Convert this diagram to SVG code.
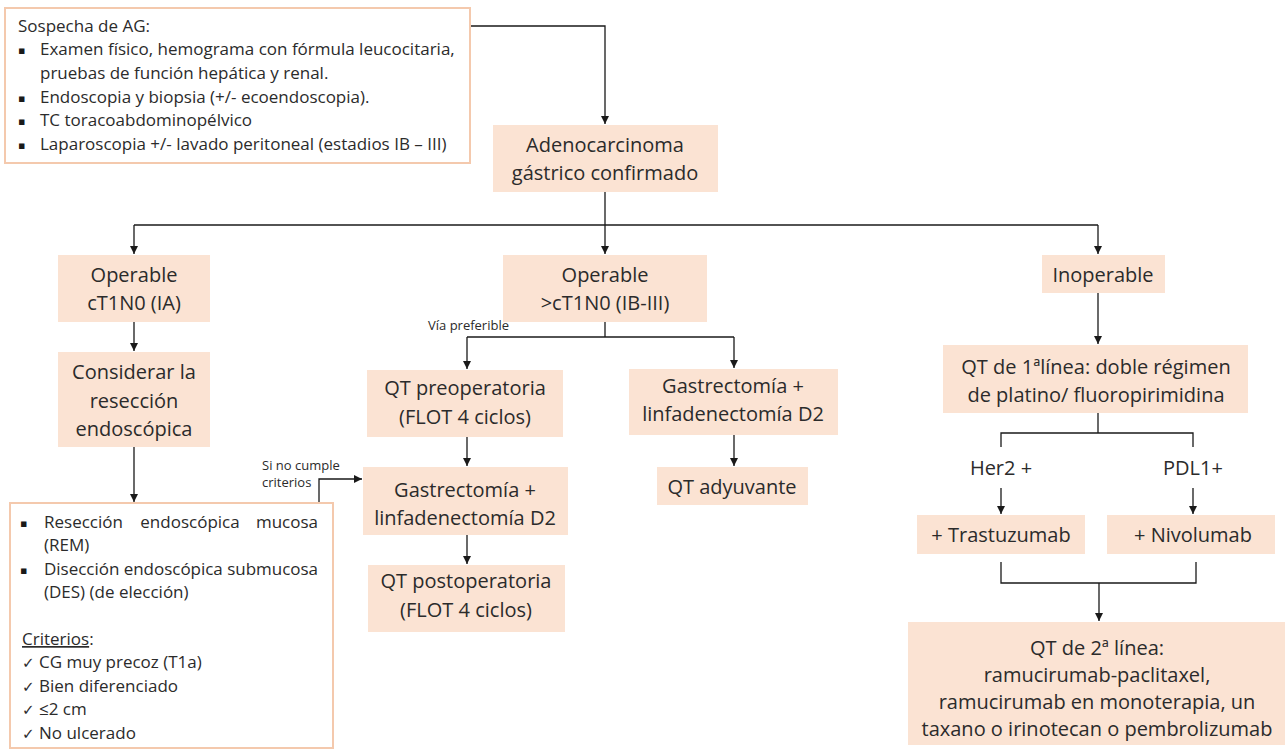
<svg xmlns="http://www.w3.org/2000/svg" width="1287" height="750" viewBox="0 0 1287 750">
<defs>
<marker id="arr" viewBox="0 0 10 10" refX="10" refY="5" markerWidth="8" markerHeight="8" markerUnits="userSpaceOnUse" orient="auto">
<path d="M0,0 L10,5 L0,10 z" fill="#1a1a1a"/>
</marker>
<style>
.box{fill:#fbe3d3;stroke:none}
.obox{fill:#ffffff;stroke:#f4c9ad;stroke-width:2}
.t{font-family:"Open Sans","Liberation Sans",Arial,sans-serif;font-size:20px;fill:#2b2b2b;text-anchor:middle}
.s{font-family:"Open Sans","Liberation Sans",Arial,sans-serif;font-size:17px;fill:#2b2b2b}
.sm{font-family:"Open Sans","Liberation Sans",Arial,sans-serif;font-size:13px;fill:#2b2b2b}
.b{font-family:"DejaVu Sans",sans-serif;font-size:11px;fill:#1a1a1a}
.ck{font-family:"DejaVu Sans",sans-serif;font-size:15px}
.c{fill:none;stroke:#1a1a1a;stroke-width:1.3}
.ca{fill:none;stroke:#1a1a1a;stroke-width:1.3;marker-end:url(#arr)}
</style>
</defs>
<rect width="1287" height="750" fill="#ffffff"/>

<g id="connectors">
<path class="ca" d="M470,26 H605 V124"/>
<path class="c" d="M605,192 V225"/>
<path class="c" d="M134,225 H1098"/>
<path class="ca" d="M134,225 V254"/>
<path class="ca" d="M605,225 V254"/>
<path class="ca" d="M1098,225 V254"/>
<path class="ca" d="M134,322 V351"/>
<path class="ca" d="M134,447 V502"/>
<path class="c" d="M605,322 V337"/>
<path class="c" d="M467,337 H734"/>
<path class="ca" d="M467,337 V369"/>
<path class="ca" d="M734,337 V368"/>
<path class="ca" d="M467,437 V466"/>
<path class="ca" d="M467,535 V564"/>
<path class="ca" d="M734,435 V466"/>
<path class="ca" d="M319,503 V479 H362"/>
<path class="ca" d="M1098,293 V344"/>
<path class="c" d="M1098,413 V433"/>
<path class="c" d="M1001,447 V433 H1193 V447"/>
<path class="ca" d="M1001,488 V514"/>
<path class="ca" d="M1193,488 V514"/>
<path class="c" d="M1001,562 V583 H1196 V562"/>
<path class="ca" d="M1099,583 V621"/>
</g>

<g id="sospecha">
<rect class="obox" x="5" y="8" width="465" height="155"/>
<text class="s" x="18" y="32">Sospecha de AG:</text>
<text class="b" x="18" y="54">▪</text>
<text class="s" x="40" y="55">Examen físico, hemograma con fórmula leucocitaria,</text>
<text class="s" x="40" y="79">pruebas de función hepática y renal.</text>
<text class="b" x="18" y="102">▪</text>
<text class="s" x="40" y="103">Endoscopia y biopsia (+/- ecoendoscopia).</text>
<text class="b" x="18" y="125">▪</text>
<text class="s" x="40" y="126">TC toracoabdominopélvico</text>
<text class="b" x="18" y="149">▪</text>
<text class="s" x="40" y="150">Laparoscopia +/- lavado peritoneal (estadios IB – III)</text>
</g>

<g id="adeno">
<rect class="box" x="493" y="125" width="225" height="67"/>
<text class="t" x="605" y="152">Adenocarcinoma</text>
<text class="t" x="605" y="180">gástrico confirmado</text>
</g>

<g id="op-ia">
<rect class="box" x="58" y="255" width="152" height="67"/>
<text class="t" x="134" y="282">Operable</text>
<text class="t" x="134" y="310">cT1N0 (IA)</text>
</g>

<g id="op-ib">
<rect class="box" x="503" y="255" width="204" height="67"/>
<text class="t" x="605" y="282">Operable</text>
<text class="t" x="605" y="310">&gt;cT1N0 (IB-III)</text>
</g>

<g id="inoperable">
<rect class="box" x="1042" y="255" width="123" height="38"/>
<text class="t" x="1103" y="282">Inoperable</text>
</g>

<g id="considerar">
<rect class="box" x="58" y="352" width="152" height="95"/>
<text class="t" x="134" y="379">Considerar la</text>
<text class="t" x="134" y="408">resección</text>
<text class="t" x="134" y="436">endoscópica</text>
</g>

<g id="reseccion">
<rect class="obox" x="10" y="503" width="323" height="245"/>
<text class="b" x="20" y="527">▪</text>
<text class="s" x="44" y="528">Resección</text>
<text class="s" x="190" y="528" text-anchor="middle">endoscópica</text>
<text class="s" x="318" y="528" text-anchor="end">mucosa</text>
<text class="s" x="44" y="551">(REM)</text>
<text class="b" x="20" y="574">▪</text>
<text class="s" x="44" y="575" textLength="274" lengthAdjust="spacing">Disección endoscópica submucosa</text>
<text class="s" x="44" y="598">(DES) (de elección)</text>
<text class="s" x="22" y="645"><tspan text-decoration="underline">Criterios</tspan>:</text>
<text class="s" x="22" y="668"><tspan class="ck">✓</tspan> CG muy precoz (T1a)</text>
<text class="s" x="22" y="692"><tspan class="ck">✓</tspan> Bien diferenciado</text>
<text class="s" x="22" y="715"><tspan class="ck">✓</tspan> ≤2 cm</text>
<text class="s" x="22" y="739"><tspan class="ck">✓</tspan> No ulcerado</text>
</g>

<g id="labels">
<text class="sm" x="428" y="330">Vía preferible</text>
<text class="sm" x="262" y="470">Si no cumple</text>
<text class="sm" x="262" y="487">criterios</text>
</g>

<g id="qt-pre">
<rect class="box" x="367" y="370" width="196" height="67"/>
<text class="t" x="465" y="395">QT preoperatoria</text>
<text class="t" x="465" y="424">(FLOT 4 ciclos)</text>
</g>

<g id="gastro1">
<rect class="box" x="363" y="467" width="205" height="68"/>
<text class="t" x="465" y="497">Gastrectomía +</text>
<text class="t" x="465" y="525">linfadenectomía D2</text>
</g>

<g id="qt-post">
<rect class="box" x="368" y="565" width="197" height="67"/>
<text class="t" x="466" y="588">QT postoperatoria</text>
<text class="t" x="466" y="617">(FLOT 4 ciclos)</text>
</g>

<g id="gastro2">
<rect class="box" x="629" y="369" width="209" height="66"/>
<text class="t" x="733" y="393">Gastrectomía +</text>
<text class="t" x="733" y="421">linfadenectomía D2</text>
</g>

<g id="adyuvante">
<rect class="box" x="657" y="467" width="151" height="38"/>
<text class="t" x="732" y="494">QT adyuvante</text>
</g>

<g id="qt1">
<rect class="box" x="943" y="345" width="305" height="68"/>
<text class="t" x="1096" y="374">QT de 1ªlínea: doble régimen</text>
<text class="t" x="1096" y="402">de platino/ fluoropirimidina</text>
</g>

<g id="her2-label">
<text class="t" x="1001" y="475">Her2 +</text>
</g>
<g id="pdl1-label">
<text class="t" x="1193" y="475">PDL1+</text>
</g>

<g id="trastuzumab">
<rect class="box" x="917" y="515" width="168" height="39"/>
<text class="t" x="1001" y="542">+ Trastuzumab</text>
</g>

<g id="nivolumab">
<rect class="box" x="1107" y="515" width="168" height="39"/>
<text class="t" x="1193" y="542">+ Nivolumab</text>
</g>

<g id="qt2">
<rect class="box" x="908" y="622" width="377" height="123"/>
<text class="t" x="1097" y="655">QT de 2ª línea:</text>
<text class="t" x="1097" y="682">ramucirumab-paclitaxel,</text>
<text class="t" x="1097" y="709">ramucirumab en monoterapia, un</text>
<text class="t" x="1097" y="736">taxano o irinotecan o pembrolizumab</text>
</g>
</svg>
